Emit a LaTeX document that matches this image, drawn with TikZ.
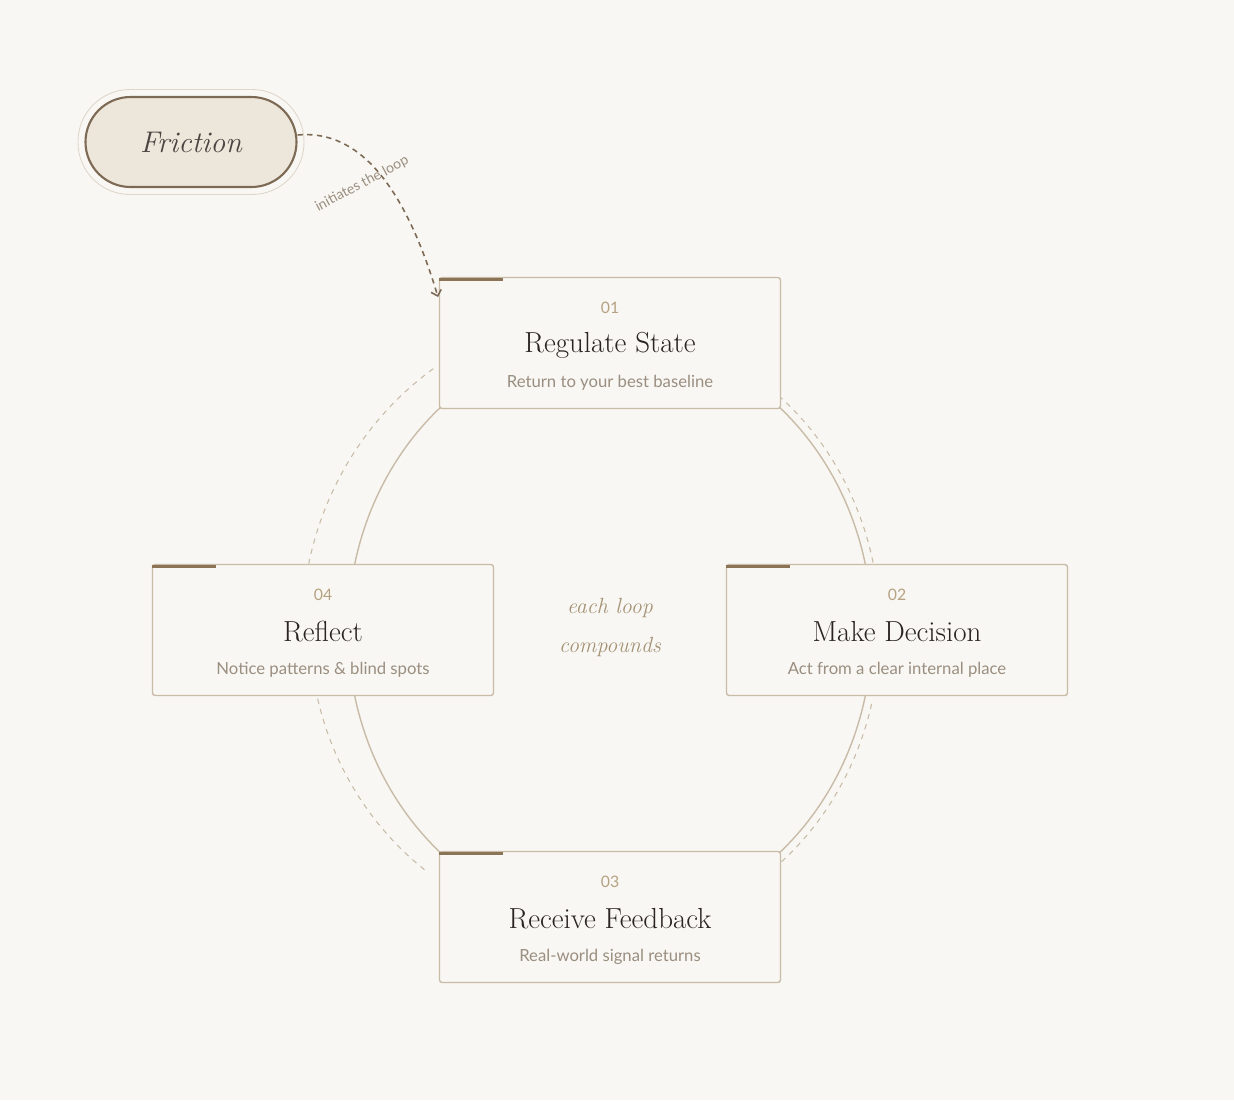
\documentclass[tikz,border=0pt]{standalone}
\usepackage{fontspec}
\newfontfamily\sansfont{Lato}
\usetikzlibrary{arrows.meta}
\definecolor{paper}{HTML}{F9F7F3}
\definecolor{edge}{HTML}{C8BBA8}
\definecolor{bar}{HTML}{8B7355}
\definecolor{numcol}{HTML}{B5A282}
\definecolor{subcol}{HTML}{9A8E80}
\definecolor{ink}{HTML}{2A2420}
\definecolor{pill}{HTML}{EDE6DA}
\definecolor{pilledge}{HTML}{7D6A55}
\tikzset{
  stepcard/.style={draw=edge, line width=0.8pt, fill=paper, rounded corners=1.5pt,
    minimum width=341*0.02cm, minimum height=131*0.02cm},
  stepnum/.style={text=numcol, font=\sansfont\fontsize{9}{9}\selectfont},
  steptitle/.style={text=ink, font=\fontsize{16.5}{16.5}\selectfont},
  stepsub/.style={text=subcol, font=\sansfont\fontsize{9.5}{9.5}\selectfont},
  accent/.style={draw=bar, line width=1.8pt},
  ring/.style={draw=edge, line width=0.6pt, dash pattern=on 3pt off 3pt}
}
\def\card#1#2#3#4#5#6{%
  \node[stepcard] (#1) at (#2,#3) {};
  \draw[accent] (#1.north west)++(0,3) -- ++(64,0);
  \node[stepnum] at (#2,#3-35) {#4};
  \node[steptitle] at (#2,#3+2) {#5};
  \node[stepsub] at (#2,#3+40) {#6};
}
% arc of the dashed ring: angles, x radius, y radius
\def\ringarc#1#2#3#4{\draw[ring] plot[domain=#1:#2, samples=40, smooth] ({610+#3*cos(\x)},{630-#4*sin(\x)});}
\begin{document}
\begin{tikzpicture}[x=0.02cm, y=-0.02cm]
  \fill[paper] (0,0) rectangle (1234,1100);
  \useasboundingbox (0,0) rectangle (1234,1100);
  % loop
  \draw[edge, line width=0.8pt] (610,630) ellipse [x radius=262, y radius=292];
  \ringarc{125}{168}{308}{319}
  \ringarc{13}{52}{270}{300}
  \ringarc{-57}{-14}{270}{300}
  \ringarc{-167}{-128}{300}{305}
  % steps
  \card{regulate}{610}{343}{01}{Regulate State}{Return to your best baseline}
  \card{decide}{897}{630}{02}{Make Decision}{Act from a clear internal place}
  \card{feedback}{610}{917}{03}{Receive Feedback}{Real-world signal returns}
  \card{reflect}{323}{630}{04}{Reflect}{Notice patterns \& blind spots}
  \node[text=numcol!90!black, font=\itshape\fontsize{12.5}{12.5}\selectfont] (each) at (610,608) {each loop};
  \node[text=numcol!90!black, font=\itshape\fontsize{12.5}{12.5}\selectfont] (comp) at (610,647) {compounds};
  % friction
  \node[draw=edge!60, line width=0.5pt, rounded corners=52*0.02cm, minimum width=226*0.02cm, minimum height=105*0.02cm] (halo) at (191,142) {};
  \node[draw=pilledge, fill=pill, line width=1.2pt, rounded corners=45*0.02cm, minimum width=211*0.02cm, minimum height=90*0.02cm,
    text=ink!85, font=\itshape\fontsize{17}{17}\selectfont] (friction) at (191,142) {Friction};
  \coordinate (entry) at (438,297);
  \draw[pilledge, line width=0.9pt, dash pattern=on 3pt off 2.5pt, -{Straight Barb[length=3pt]}]
    (friction.east) ++(0,-7) .. controls (350,130) and (400,170) .. (entry);
  \node[text=subcol, rotate=28, font=\sansfont\fontsize{8}{8}\selectfont] (init) at (362,184) {initiates the loop};
\end{tikzpicture}
\end{document}
